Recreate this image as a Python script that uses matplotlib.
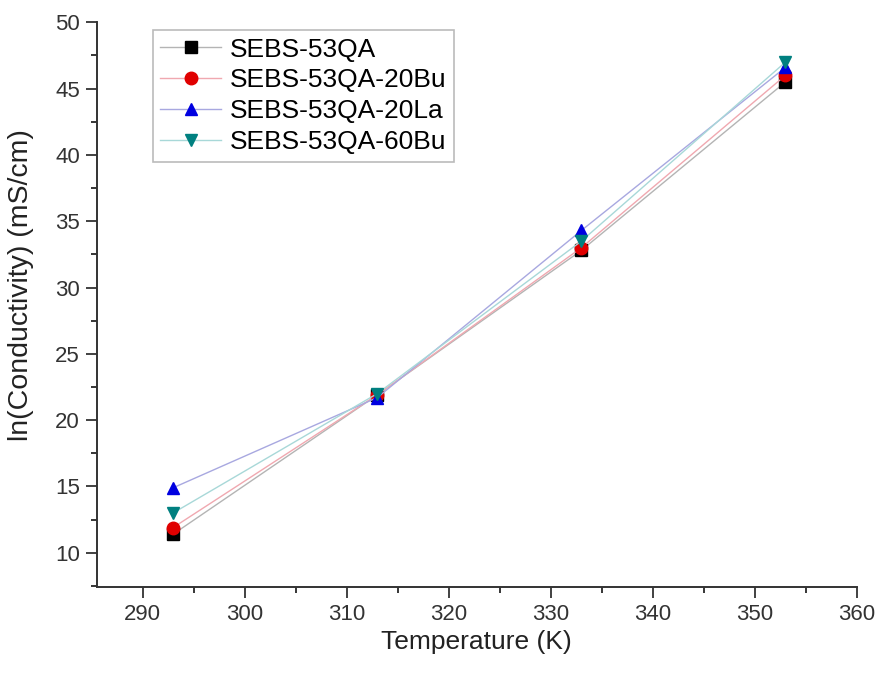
import matplotlib.pyplot as plt
from matplotlib.ticker import MultipleLocator

plt.rcParams['font.family'] = ['Liberation Sans', 'DejaVu Sans']

temps = [293, 313, 333, 353]
labels = ["SEBS-53QA", "SEBS-53QA-20Bu", "SEBS-53QA-20La", "SEBS-53QA-60Bu"]
qa = [11.4, 21.9, 32.8, 45.5]
qa_20bu = [11.9, 21.9, 33.0, 46.0]
qa_20la = [14.9, 21.7, 34.3, 46.6]
qa_60bu = [13.0, 22.0, 33.5, 47.0]

series = [qa, qa_20bu, qa_20la, qa_60bu]
markers = ["s", "o", "^", "v"]
mcolors = ["black", "#e00000", "#0000e0", "#008080"]
lcolors = ["#b4b4b4", "#f0a8b0", "#a8a8e0", "#a8d8d8"]

fig = plt.figure(figsize=(8.78, 6.75), dpi=100)
ax = fig.add_axes([0.110, 0.130, 0.866, 0.837])

for y, lab, m, mc, lc in zip(series, labels, markers, mcolors, lcolors):
    ax.plot(temps, y, color=lc, lw=1.0, marker=m, markersize=9,
            markerfacecolor=mc, markeredgecolor=mc, label=lab)

ax.set_xlim(285.5, 360)
ax.set_ylim(7.4, 50)
ax.xaxis.set_major_locator(MultipleLocator(10))
ax.xaxis.set_minor_locator(MultipleLocator(5))
ax.yaxis.set_major_locator(MultipleLocator(5))
ax.yaxis.set_minor_locator(MultipleLocator(2.5))
ax.tick_params(which="major", direction="out", length=8, width=1.3, pad=4,
               labelsize=16, colors="#333333")
ax.tick_params(which="minor", direction="out", length=4.5, width=1.1)
for s in ["top", "right"]:
    ax.spines[s].set_visible(False)
for s in ["left", "bottom"]:
    ax.spines[s].set_linewidth(1.4)
    ax.spines[s].set_color("#333333")

ax.set_xlabel("Temperature (K)", fontsize=19, color="#222222")
ax.set_ylabel("ln(Conductivity) (mS/cm)", fontsize=20.5, color="#222222")
ax.yaxis.set_label_coords(-0.082, 0.534)

leg = ax.legend(loc="upper left", bbox_to_anchor=(0.074, 0.986), fontsize=19,
                fancybox=False, frameon=True, edgecolor="#aaaaaa",
                handlelength=2.3, borderpad=0.28, borderaxespad=0,
                labelspacing=0.26, handletextpad=0.35)
leg.get_frame().set_linewidth(1.2)

fig.savefig("out.png", dpi=100)
